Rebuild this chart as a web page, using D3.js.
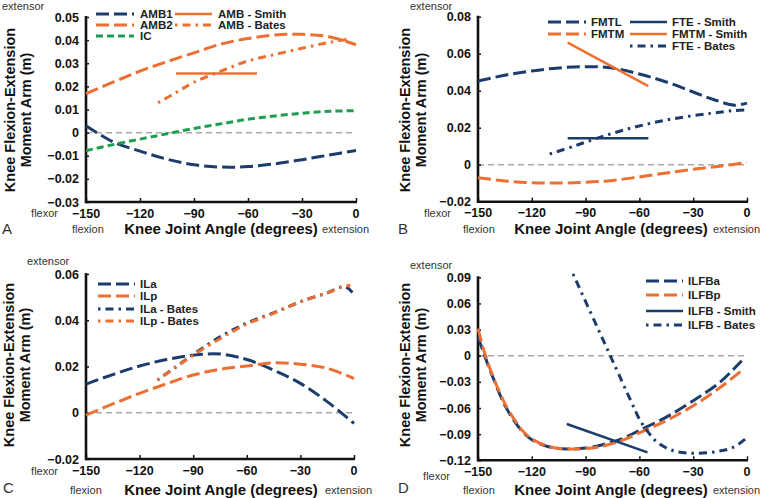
<!DOCTYPE html>
<html><head><meta charset="utf-8">
<script src="https://cdn.jsdelivr.net/npm/d3@7"></script>
<style>body{margin:0;background:#fff}svg{display:block}text{font-family:"Liberation Sans",Arial,sans-serif}</style>
</head><body><svg id="c" width="761" height="498"></svg>
<script>
// ---------- DATA ----------
const grid15 = [-150,-135,-120,-105,-90,-75,-60,-45,-30,-15,0];
// Panel A
const AMB1 = [0.003,-0.004,-0.008,-0.0115,-0.0139,-0.0149,-0.0147,-0.0135,-0.0117,-0.0097,-0.0077];
const AMB2 = [0.0169,0.0218,0.0266,0.0307,0.0345,0.0383,0.0407,0.0422,0.0425,0.0415,0.038];
const IC = [-0.0078,-0.0052,-0.0028,-0.0005,0.0018,0.0038,0.0058,0.0072,0.0084,0.0092,0.0095];
const AMB_Smith_angles = [-100,-55];
const AMB_Smith = [0.0256,0.0256];
const AMB_Bates_angles = [-110,-100,-90,-75,-60,-45,-30,-15,-3];
const AMB_Bates = [0.0129,0.0173,0.0218,0.0266,0.031,0.0338,0.0365,0.039,0.0405];
// Panel B
const FMTL_angles = [-150,-135,-120,-105,-90,-75,-60,-45,-30,-18,-7,0];
const FMTL = [0.0452,0.0484,0.0507,0.0523,0.053,0.0523,0.049,0.0447,0.0393,0.035,0.0322,0.0333];
const FMTM = [-0.007,-0.0088,-0.0097,-0.0099,-0.0095,-0.0085,-0.0066,-0.0045,-0.0025,-0.0008,0.0012];
const FTE_Smith_angles = [-100,-55];
const FTE_Smith = [0.0143,0.0143];
const FMTM_Smith_angles = [-100,-55];
const FMTM_Smith = [0.066,0.0425];
const FTE_Bates_angles = [-110,-95,-80,-65,-50,-35,-20,-8,0];
const FTE_Bates = [0.0058,0.0105,0.0155,0.0197,0.0232,0.0258,0.0278,0.0292,0.0296];
// Panel C
const ILa = [0.0124,0.0165,0.0202,0.023,0.0249,0.0254,0.023,0.0184,0.0127,0.0048,-0.0046];
const ILp = [-0.001,0.0038,0.0084,0.0125,0.0163,0.0188,0.0202,0.0216,0.021,0.0192,0.0148];
const ILa_Bates_angles = [-110,-100,-90,-75,-60,-45,-30,-15,-5,0];
const ILa_Bates = [0.0141,0.0197,0.0252,0.0328,0.0388,0.0432,0.048,0.0518,0.0545,0.0512];
const ILp_Bates_angles = [-110,-100,-90,-75,-60,-45,-30,-15,-5,-2];
const ILp_Bates = [0.0141,0.0195,0.0249,0.032,0.0383,0.043,0.048,0.0519,0.0548,0.055];
// Panel D
const D_angles = [-150,-147,-144,-141,-138,-135,-130,-125,-120,-110,-100,-90,-80,-70,-60,-45,-30,-15,-3];
const ILFBa = [0.0214,0.0042,-0.013,-0.0283,-0.0436,-0.057,-0.0742,-0.0876,-0.0964,-0.1048,-0.1071,-0.106,-0.1018,-0.0955,-0.0857,-0.0704,-0.0516,-0.0302,-0.0057];
const D_angles_p = [-150,-147,-144,-141,-138,-135,-130,-125,-120,-110,-100,-90,-80,-70,-60,-45,-30,-15,-2];
const ILFBp = [0.031,0.008,-0.011,-0.027,-0.042,-0.055,-0.0725,-0.0865,-0.0955,-0.1045,-0.107,-0.1065,-0.1035,-0.0975,-0.0885,-0.0745,-0.0574,-0.0365,-0.0153];
const ILFB_Smith_angles = [-100.5,-55.5];
const ILFB_Smith = [-0.0784,-0.1109];
const ILFB_Bates_angles = [-97,-85,-75,-65,-59.5,-55,-50,-41,-30,-17,-7.5,-1];
const ILFB_Bates = [0.0938,0.0396,-0.0055,-0.0507,-0.0746,-0.088,-0.0994,-0.109,-0.112,-0.110,-0.105,-0.0956];

const xTicks = [-150,-120,-90,-60,-30,0];
const xTickLabels = ["\u2212150","\u2212120","\u221290","\u221260","\u221230","0"];
const yTicksA = [-0.03,-0.02,-0.01,0,0.01,0.02,0.03,0.04,0.05];
const yTickLabelsA = ["\u22120.03","\u22120.02","\u22120.01","0","0.01","0.02","0.03","0.04","0.05"];
const yTicksB = [-0.02,0,0.02,0.04,0.06,0.08];
const yTickLabelsB = ["\u22120.02","0","0.02","0.04","0.06","0.08"];
const yTicksC = [-0.02,0,0.02,0.04,0.06];
const yTickLabelsC = ["\u22120.02","0","0.02","0.04","0.06"];
const yTicksD = [-0.12,-0.09,-0.06,-0.03,0,0.03,0.06,0.09];
const yTickLabelsD = ["\u22120.12","\u22120.09","\u22120.06","\u22120.03","0","0.03","0.06","0.09"];

// ---------- STYLE ----------
const NAVY = "#1c3d6c", ORANGE = "#ec7032", GREEN = "#1f9e4f";
const DASH = "13,5", SHORT = "7,4", DOTDASH = "2.5,5,8,5";
const zip = (a, v) => a.map((x, i) => [x, v[i]]);

const panels = [
  {letter:"A", x0:86, x1:356, yT:17, yB:202, dom:[-0.03,0.05], yt:yTicksA, yl:yTickLabelsA,
   txt:{ext:[2,6], flexor:[58,213], flexion:[72,229], extension:[322,229], letter:[2,229], title:[221,229], yt1:10, yt2:26, ytc:110},
   series:[
     {d:zip(grid15,AMB1), c:NAVY, dash:DASH, name:"AMB1", lx:[96,134], tx:140, ly:14},
     {d:zip(grid15,AMB2), c:ORANGE, dash:DASH, name:"AMB2", lx:[96,134], tx:140, ly:25},
     {d:zip(grid15,IC), c:GREEN, dash:SHORT, name:"IC", lx:[96,134], tx:140, ly:36},
     {d:zip(AMB_Smith_angles,AMB_Smith), c:ORANGE, dash:null, w:2.5, name:"AMB - Smith", lx:[175,212], tx:218, ly:14, straight:true},
     {d:zip(AMB_Bates_angles,AMB_Bates), c:ORANGE, dash:DOTDASH, name:"AMB - Bates", lx:[175,212], tx:218, ly:25}
   ]},
  {letter:"B", x0:478, x1:747, yT:16.7, yB:201.7, dom:[-0.02,0.08], yt:yTicksB, yl:yTickLabelsB,
   txt:{ext:[410,6], flexor:[451,213], flexion:[463,229], extension:[713,229], letter:[398,229], title:[611,229], yt1:405, yt2:421, ytc:110},
   series:[
     {d:zip(FMTL_angles,FMTL), c:NAVY, dash:DASH, name:"FMTL", lx:[548,586], tx:591, ly:22},
     {d:zip(grid15,FMTM), c:ORANGE, dash:DASH, name:"FMTM", lx:[548,586], tx:591, ly:34},
     {d:zip(FTE_Smith_angles,FTE_Smith), c:NAVY, dash:null, w:2.5, name:"FTE - Smith", lx:[630,667], tx:672, ly:22, straight:true},
     {d:zip(FMTM_Smith_angles,FMTM_Smith), c:ORANGE, dash:null, w:2.5, name:"FMTM - Smith", lx:[630,667], tx:672, ly:34, straight:true},
     {d:zip(FTE_Bates_angles,FTE_Bates), c:NAVY, dash:DOTDASH, name:"FTE - Bates", lx:[630,667], tx:672, ly:46}
   ]},
  {letter:"C", x0:86, x1:354, yT:274, yB:459, dom:[-0.02,0.06], yt:yTicksC, yl:yTickLabelsC,
   txt:{ext:[27,261], flexor:[58,471], flexion:[70,490], extension:[325,490], letter:[3,488], title:[221,490], yt1:9, yt2:25, ytc:365},
   series:[
     {d:zip(grid15,ILa), c:NAVY, dash:DASH, name:"ILa", lx:[98,135], tx:140, ly:284},
     {d:zip(grid15,ILp), c:ORANGE, dash:DASH, name:"ILp", lx:[98,135], tx:140, ly:296},
     {d:zip(ILa_Bates_angles,ILa_Bates), c:NAVY, dash:DOTDASH, name:"ILa - Bates", lx:[98,135], tx:140, ly:309},
     {d:zip(ILp_Bates_angles,ILp_Bates), c:ORANGE, dash:DOTDASH, name:"ILp - Bates", lx:[98,135], tx:140, ly:321}
   ]},
  {letter:"D", x0:478, x1:747, yT:277.3, yB:460.3, dom:[-0.12,0.09], yt:yTicksD, yl:yTickLabelsD,
   txt:{ext:[410,265], flexor:[450,476], flexion:[463,490], extension:[713,490], letter:[398,488], title:[611,490], yt1:405, yt2:421, ytc:365},
   series:[
     {d:zip(D_angles,ILFBa), c:NAVY, dash:DASH, name:"ILFBa", lx:[646,683], tx:688, ly:281},
     {d:zip(D_angles_p,ILFBp), c:ORANGE, dash:DASH, name:"ILFBp", lx:[646,683], tx:688, ly:295},
     {d:zip(ILFB_Smith_angles,ILFB_Smith), c:NAVY, dash:null, w:2.5, name:"ILFB - Smith", lx:[646,683], tx:688, ly:311, straight:true},
     {d:zip(ILFB_Bates_angles,ILFB_Bates), c:NAVY, dash:DOTDASH, name:"ILFB - Bates", lx:[646,683], tx:688, ly:325}
   ]}
];

const svg = d3.select("#c");
const TXT = "#333";

panels.forEach(p => {
  const g = svg.append("g");
  const x = d3.scaleLinear().domain([-150,0]).range([p.x0,p.x1]);
  const y = d3.scaleLinear().domain(p.dom).range([p.yB,p.yT]);

  // zero line
  g.append("line").attr("x1",p.x0).attr("x2",p.x1).attr("y1",y(0)).attr("y2",y(0))
    .attr("stroke","#a8a8a8").attr("stroke-width",1.5).attr("stroke-dasharray","6,4");

  // axes
  const ya = g.append("g").attr("transform",`translate(${p.x0},0)`)
    .call(d3.axisRight(y).tickValues(p.yt).tickSize(3).tickFormat(""));
  ya.select(".domain").remove();
  ya.selectAll("line").attr("stroke","#111").attr("stroke-width",1.5);
  const xa = g.append("g").attr("transform",`translate(0,${p.yB})`)
    .call(d3.axisTop(x).tickValues(xTicks).tickSize(4).tickFormat(""));
  xa.select(".domain").remove();
  xa.selectAll("line").attr("stroke","#111").attr("stroke-width",1.5);
  g.append("path").attr("d",`M${p.x0},${p.yT-1}V${p.yB}H${p.x1+1}`)
    .attr("fill","none").attr("stroke","#111").attr("stroke-width",2.6);

  // tick labels
  p.yt.forEach((v,i) => g.append("text").attr("x",p.x0-7).attr("y",y(v)).attr("dy","0.36em")
    .attr("text-anchor","end").attr("font-size",12.5).attr("font-weight","bold").attr("fill","#111").text(p.yl[i]));
  xTicks.forEach((v,i) => g.append("text").attr("x",x(v)).attr("y",p.yB+11).attr("dy","0.36em")
    .attr("text-anchor","middle").attr("font-size",12.5).attr("font-weight","bold").attr("fill","#111").text(xTickLabels[i]));

  // series
  p.series.forEach(s => {
    const line = d3.line().x(d=>x(d[0])).y(d=>y(d[1]))
      .curve(s.straight ? d3.curveLinear : d3.curveCatmullRom.alpha(0.5));
    g.append("path").attr("d",line(s.d)).attr("fill","none").attr("stroke",s.c)
      .attr("stroke-width",s.w||3).attr("stroke-dasharray",s.dash||null);
    g.append("line").attr("x1",s.lx[0]).attr("x2",s.lx[1]).attr("y1",s.ly).attr("y2",s.ly)
      .attr("stroke",s.c).attr("stroke-width",s.w||3).attr("stroke-dasharray",s.dash||null);
    g.append("text").attr("x",s.tx).attr("y",s.ly).attr("dy","0.36em").attr("font-size",11.5)
      .attr("font-weight","bold").attr("fill","#222").text(s.name);
  });

  // annotations
  const t = p.txt;
  g.append("text").attr("x",t.ext[0]).attr("y",t.ext[1]).attr("dy","0.36em").attr("font-size",11).attr("fill",TXT).text("extensor");
  g.append("text").attr("x",t.flexor[0]).attr("y",t.flexor[1]).attr("dy","0.36em").attr("text-anchor","end").attr("font-size",11).attr("fill",TXT).text("flexor");
  g.append("text").attr("x",t.flexion[0]).attr("y",t.flexion[1]).attr("dy","0.36em").attr("font-size",11).attr("fill",TXT).text("flexion");
  g.append("text").attr("x",t.extension[0]).attr("y",t.extension[1]).attr("dy","0.36em").attr("font-size",11).attr("fill",TXT).text("extension");
  g.append("text").attr("x",t.letter[0]).attr("y",t.letter[1]).attr("dy","0.36em").attr("font-size",15).attr("fill",TXT).text(p.letter);
  g.append("text").attr("x",t.title[0]).attr("y",t.title[1]).attr("dy","0.36em").attr("text-anchor","middle")
    .attr("font-size",15).attr("font-weight","bold").attr("fill","#111").text("Knee Joint Angle (degrees)");
  [[t.yt1,"Knee Flexion-Extension"],[t.yt2,"Moment Arm (m)"]].forEach(([xx,str]) =>
    g.append("text").attr("transform",`translate(${xx},${t.ytc}) rotate(-90)`).attr("dy","0.36em")
      .attr("text-anchor","middle").attr("font-size",14.5).attr("font-weight","bold").attr("fill","#111").text(str));
});
</script></body></html>
